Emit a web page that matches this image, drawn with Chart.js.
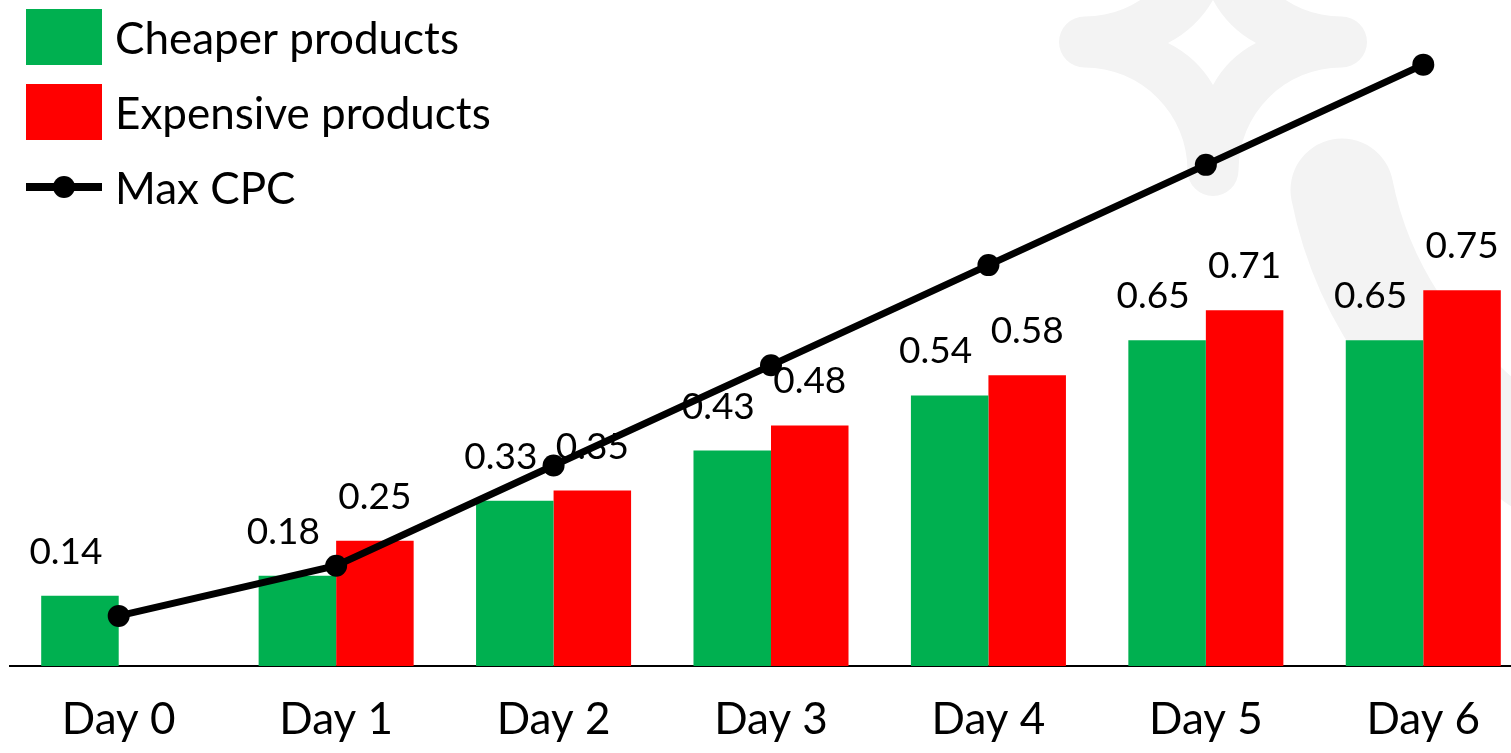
<!DOCTYPE html>
<html>
<head>
<meta charset="utf-8">
<title>Max CPC by day</title>
<script src="https://cdn.jsdelivr.net/npm/chart.js@4.4.1/dist/chart.umd.min.js"></script>
<style>
  html, body { margin: 0; padding: 0; background: #ffffff; overflow: hidden; }
  #wrap { position: relative; width: 1532px; height: 753px; }
</style>
</head>
<body>
<div id="wrap"><canvas id="chart"></canvas></div>
<script>
// Days on the x axis
const categories = ['Day 0', 'Day 1', 'Day 2', 'Day 3', 'Day 4', 'Day 5', 'Day 6'];
// Bid values per product group (no expensive bid on day 0)
const cheaperValues = [0.14, 0.18, 0.33, 0.43, 0.54, 0.65, 0.65];
const expensiveValues = [null, 0.25, 0.35, 0.48, 0.58, 0.71, 0.75];
// Maximum cost per click ceiling
const maxCpcValues = [0.10, 0.20, 0.40, 0.60, 0.80, 1.00, 1.20];

const FONT = 'Lato, "Open Sans", sans-serif';
const GREEN = '#00B050';
const RED = '#FF0000';
const MARK_GREY = '#f3f3f3';

// Faint brand mark in the upper right corner, painted behind the chart
const brandMark = {
  id: 'brandMark',
  beforeDraw(chart) {
    const ctx = chart.ctx;
    ctx.save();
    ctx.fillStyle = MARK_GREY;
    ctx.strokeStyle = MARK_GREY;

    // four-pointed concave star with a diamond cut-out
    const cx = 1213, cy = 42, arm = 128.5, w = 25.5, r = arm - w;
    const L = [cx - arm, cy], R = [cx + arm, cy], B = [cx, cy + arm], T = [cx, cy - arm];
    ctx.beginPath();
    ctx.moveTo(L[0], L[1] - w);
    ctx.arc(L[0], T[1], r, Math.PI / 2, 0, true);
    ctx.arc(T[0], T[1], w, Math.PI, 0, false);
    ctx.arc(R[0], T[1], r, Math.PI, Math.PI / 2, true);
    ctx.arc(R[0], R[1], w, -Math.PI / 2, Math.PI / 2, false);
    ctx.arc(R[0], B[1], r, -Math.PI / 2, Math.PI, true);
    ctx.arc(B[0], B[1], w, 0, Math.PI, false);
    ctx.arc(L[0], B[1], r, 0, -Math.PI / 2, true);
    ctx.arc(L[0], L[1], w, Math.PI / 2, Math.PI * 1.5, false);
    ctx.closePath();

    const pts = [[1213, 0], [1256, 43], [1213, 85], [1168, 43]];
    const hc = [1212.5, 42.5];
    ctx.moveTo(pts[0][0], pts[0][1]);
    for (let i = 0; i < 4; i++) {
      const a = pts[i], b = pts[(i + 1) % 4];
      const mx = (a[0] + b[0]) / 2, my = (a[1] + b[1]) / 2;
      ctx.quadraticCurveTo(mx + 0.3 * (hc[0] - mx), my + 0.3 * (hc[1] - my), b[0], b[1]);
    }
    ctx.closePath();
    ctx.fill('evenodd');

    // sweeping tail
    ctx.lineWidth = 103;
    ctx.lineCap = 'round';
    ctx.beginPath();
    ctx.moveTo(1342, 190);
    ctx.quadraticCurveTo(1378, 372, 1585, 492);
    ctx.stroke();
    ctx.restore();
  }
};

// Value printed above every bar, drawn before the line so the line passes over it
const valueLabels = {
  id: 'valueLabels',
  afterDatasetDraw(chart, args) {
    const ds = chart.data.datasets[args.index];
    if (ds.type === 'line') return;
    const ctx = chart.ctx;
    ctx.save();
    ctx.font = '37px ' + FONT;
    ctx.fillStyle = '#000';
    ctx.textAlign = 'center';
    ctx.textBaseline = 'alphabetic';
    args.meta.data.forEach((bar, i) => {
      const v = ds.data[i];
      if (v === null || v === undefined) return;
      ctx.fillText(v.toFixed(2), bar.x + (ds.labelShift || 0), bar.y - 32);
    });
    ctx.restore();
  }
};

// Legend stacked in the upper left corner over the plot
const cornerLegend = {
  id: 'cornerLegend',
  afterDraw(chart) {
    const ctx = chart.ctx;
    ctx.save();
    ctx.font = '44px ' + FONT;
    ctx.textBaseline = 'alphabetic';
    ctx.textAlign = 'left';
    const x0 = 26, boxW = 76, boxH = 56, rowStart = 37, rowGap = 75;
    chart.data.datasets.forEach((ds, i) => {
      const yc = rowStart + i * rowGap;
      if (ds.type === 'line') {
        ctx.strokeStyle = ds.borderColor;
        ctx.lineWidth = 8;
        ctx.beginPath();
        ctx.moveTo(x0, yc);
        ctx.lineTo(x0 + boxW, yc);
        ctx.stroke();
        ctx.fillStyle = ds.pointBackgroundColor;
        ctx.beginPath();
        ctx.arc(x0 + boxW / 2, yc, ds.pointRadius, 0, Math.PI * 2);
        ctx.fill();
      } else {
        ctx.fillStyle = ds.backgroundColor;
        ctx.fillRect(x0, yc - boxH / 2, boxW, boxH);
      }
      ctx.fillStyle = '#000';
      ctx.fillText(ds.label, 115, yc + 17);
    });
    ctx.restore();
  }
};

new Chart(document.getElementById('chart'), {
  type: 'bar',
  data: {
    labels: categories,
    datasets: [
      {
        label: 'Cheaper products',
        data: cheaperValues,
        backgroundColor: GREEN,
        order: 1,
        labelShift: -14
      },
      {
        label: 'Expensive products',
        data: expensiveValues,
        backgroundColor: RED,
        order: 1,
        labelShift: 0
      },
      {
        type: 'line',
        label: 'Max CPC',
        data: maxCpcValues,
        borderColor: '#000000',
        borderWidth: 7,
        pointRadius: 11,
        pointHoverRadius: 11,
        pointBackgroundColor: '#000000',
        pointBorderWidth: 0,
        tension: 0,
        order: 0
      }
    ]
  },
  options: {
    responsive: true,
    maintainAspectRatio: false,
    animation: false,
    events: [],
    layout: { autoPadding: false, padding: { left: 10, right: 0, top: 0, bottom: 0 } },
    datasets: {
      bar: { categoryPercentage: 0.713, barPercentage: 1.0 }
    },
    scales: {
      x: {
        grid: { display: false },
        border: { display: true, color: '#000000', width: 2 },
        ticks: {
          color: '#000000',
          font: { family: FONT, size: 44 },
          padding: 19,
          maxRotation: 0,
          autoSkip: false
        },
        afterFit(scale) { scale.height = 87; }
      },
      y: {
        display: false,
        min: 0,
        max: 1.329
      }
    },
    plugins: {
      legend: { display: false },
      tooltip: { enabled: false }
    }
  },
  plugins: [brandMark, valueLabels, cornerLegend]
});
</script>
</body>
</html>
